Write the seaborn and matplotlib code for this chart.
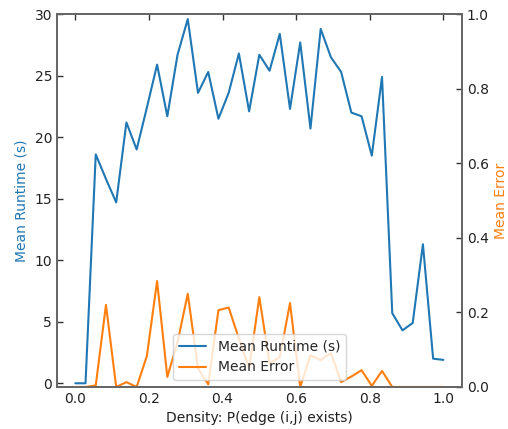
import numpy as np
import pandas as pd
import matplotlib
matplotlib.use("Agg")
import matplotlib.pyplot as plt
import seaborn as sns

# Edge-probability sweep: 37 evenly spaced densities from 0 to 1
density = np.linspace(0.0, 1.0, 37)

mean_runtime = [
    0.0, 0.0, 18.6, 16.6, 14.7, 21.2, 19.0, 22.4, 25.9, 21.7,
    26.7, 29.6, 23.6, 25.3, 21.5, 23.6, 26.8, 22.1, 26.7, 25.4,
    28.4, 22.3, 27.7, 20.7, 28.8, 26.5, 25.3, 22.0, 21.7, 18.5,
    24.9, 5.7, 4.3, 4.9, 11.3, 2.0, 1.9,
]

mean_error = [
    0.0, 0.0, 0.004, 0.22, 0.0, 0.013, 0.0, 0.083, 0.284, 0.027,
    0.12, 0.25, 0.05, 0.007, 0.206, 0.213, 0.13, 0.05, 0.241, 0.063,
    0.08, 0.225, 0.0, 0.085, 0.072, 0.091, 0.013, 0.028, 0.045, 0.003,
    0.043, 0.0, 0.0, 0.0, 0.0, 0.0, 0.0,
]

df = pd.DataFrame({
    "density": density,
    "runtime": mean_runtime,
    "error": mean_error,
})

sns.set_style("white")
plt.rcParams["font.family"] = ["DejaVu Sans"]
plt.rcParams["font.size"] = 10

blue = "#1f77b4"
orange = "#ff7f0e"
spine_col = "#666666"

fig, ax1 = plt.subplots(figsize=(5.08, 4.29), dpi=100)
fig.subplots_adjust(left=0.112, right=0.909, top=0.967, bottom=0.098)

sns.lineplot(data=df, x="density", y="runtime", ax=ax1, color=blue,
             linewidth=1.5, label="Mean Runtime (s)", legend=False)
ax2 = ax1.twinx()
sns.lineplot(data=df, x="density", y="error", ax=ax2, color=orange,
             linewidth=1.5, label="Mean Error", legend=False)

ax1.set_xlim(-0.05, 1.05)
ax1.set_ylim(-0.3, 30)
ax2.set_ylim(0.0, 1.0)

ax1.set_xticks(np.arange(0, 1.01, 0.2))
ax1.set_yticks(np.arange(0, 31, 5))
ax2.set_yticks(np.arange(0, 1.01, 0.2))

ax1.set_xlabel("Density: P(edge (i,j) exists)", fontsize=10, color="#222222")
ax1.set_ylabel("Mean Runtime (s)", fontsize=10, color=blue)
ax2.set_ylabel("Mean Error", fontsize=10, color=orange)

ax1.tick_params(axis="both", direction="in", top=True, right=False,
                length=4, width=1, color="#333333", labelsize=10,
                labelcolor="#222222")
ax2.tick_params(axis="y", direction="in", length=4, width=1,
                color="#333333", labelsize=10, labelcolor="#222222")

for ax in (ax1, ax2):
    for s in ax.spines.values():
        s.set_visible(True)
        s.set_color(spine_col)
        s.set_linewidth(1.3)

h1, l1 = ax1.get_legend_handles_labels()
h2, l2 = ax2.get_legend_handles_labels()
ax2.legend(h1 + h2, l1 + l2, loc="lower center", fontsize=10, framealpha=0.8)

fig.savefig("out.png", dpi=100)
